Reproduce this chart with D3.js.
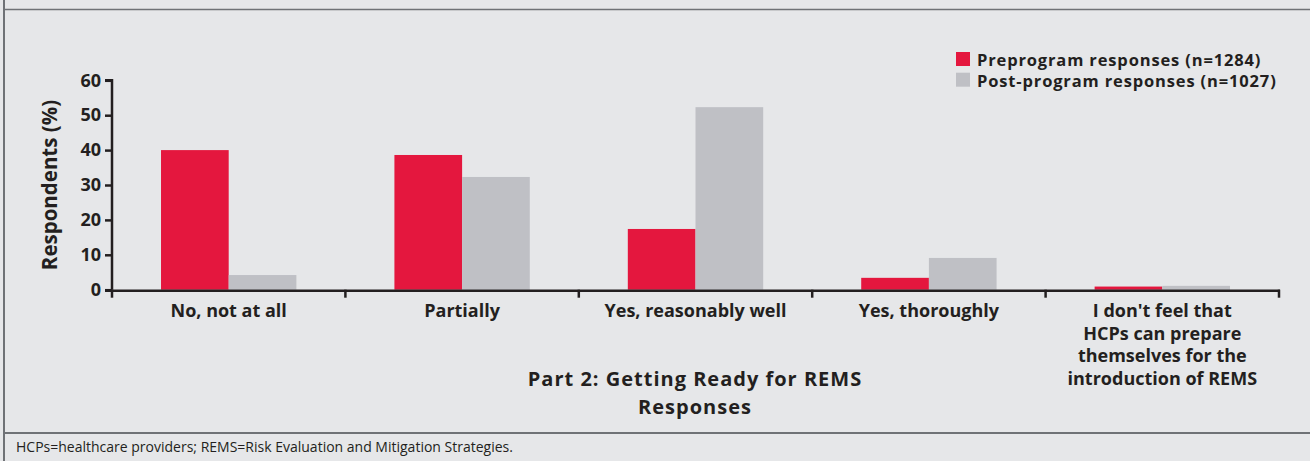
<!DOCTYPE html>
<html>
<head>
<meta charset="utf-8">
<script src="https://cdn.jsdelivr.net/npm/d3@7"></script>
<style>
  html, body { margin: 0; padding: 0; background: #e6e7e9; }
  svg { display: block; }
  text { font-family: "Open Sans", sans-serif; fill: #231f20; }
</style>
</head>
<body>
<svg id="chart" width="1310" height="461"></svg>
<script>
const categories = [
  ["No, not at all"],
  ["Partially"],
  ["Yes, reasonably well"],
  ["Yes, thoroughly"],
  ["I don't feel that", "HCPs can prepare", "themselves for the", "introduction of REMS"]
];
const seriesNames = ["Preprogram responses (n=1284)", "Post-program responses (n=1027)"];
const preValues = [40.0, 38.6, 17.4, 3.4, 0.9];
const postValues = [4.2, 32.3, 52.3, 9.1, 1.1];
const yTicks = [0, 10, 20, 30, 40, 50, 60];
const yTitle = "Respondents (%)";
const xTitle = ["Part 2: Getting Ready for REMS", "Responses"];
const footnote = "HCPs=healthcare providers; REMS=Risk Evaluation and Mitigation Strategies.";
const colors = ["#e4173e", "#bfc0c5"];

const svg = d3.select("#chart");
const W = 1310, H = 461;

svg.append("rect").attr("x", 0).attr("y", 0).attr("width", W).attr("height", H).attr("fill", "#e6e7e9");

// frame lines
svg.append("line").attr("x1", 4).attr("x2", W).attr("y1", 9.5).attr("y2", 9.5)
  .attr("stroke", "#6f7276").attr("stroke-width", 1.5);
svg.append("line").attr("x1", 4).attr("x2", 4).attr("y1", 0).attr("y2", H)
  .attr("stroke", "#6f7276").attr("stroke-width", 2);
svg.append("line").attr("x1", 4).attr("x2", W).attr("y1", 433).attr("y2", 433)
  .attr("stroke", "#6f7276").attr("stroke-width", 2);

const x0 = 112, x1 = 1279, yBase = 289.7, yTop = 80.3;
const idx = d3.range(categories.length);
const x = d3.scaleBand().domain(idx).range([x0, x1]).paddingInner(0.42).paddingOuter(0.21);
const xs = d3.scaleBand().domain([0, 1]).range([0, x.bandwidth()]);
const y = d3.scaleLinear().domain([0, 60]).range([yBase, yTop]);

// bars
const series = [preValues, postValues];
series.forEach((vals, si) => {
  svg.append("g").selectAll("rect").data(vals).join("rect")
    .attr("x", (d, i) => x(i) + xs(si))
    .attr("width", xs.bandwidth())
    .attr("y", d => y(d))
    .attr("height", d => yBase - y(d))
    .attr("fill", colors[si]);
});

// y axis
const yAxis = svg.append("g").attr("transform", `translate(${x0},0)`)
  .call(d3.axisLeft(y).tickValues(yTicks).tickSize(7).tickPadding(4));
yAxis.select(".domain").attr("stroke", "#231f20").attr("stroke-width", 2.5)
  .attr("d", `M-7,${yTop}H0V${yBase}`);
yAxis.selectAll(".tick line").attr("stroke", "#231f20").attr("stroke-width", 2.5);
yAxis.selectAll(".tick text").attr("font-family", "Open Sans").attr("font-weight", 700)
  .attr("font-size", 18).attr("fill", "#231f20");

// x axis
const boundaries = d3.range(categories.length + 1).map(i => x0 + i * x.step());
svg.append("line").attr("x1", x0 - 7).attr("x2", x1 + 1).attr("y1", yBase + 1).attr("y2", yBase + 1)
  .attr("stroke", "#231f20").attr("stroke-width", 2.5);
svg.append("g").selectAll("line").data(boundaries).join("line")
  .attr("x1", d => d).attr("x2", d => d)
  .attr("y1", yBase).attr("y2", yBase + 8)
  .attr("stroke", "#231f20").attr("stroke-width", 2.5);

// category labels
categories.forEach((lines, i) => {
  const t = svg.append("text").attr("text-anchor", "middle")
    .attr("font-weight", 700).attr("font-size", 18);
  lines.forEach((ln, j) => {
    t.append("tspan").attr("x", x(i) + x.bandwidth() / 2).attr("y", 317 + j * 22.7).text(ln);
  });
});

// y title
svg.append("text").attr("transform", "translate(57,185) rotate(-90)")
  .attr("text-anchor", "middle").attr("font-weight", 700).attr("font-size", 20.5)
  .text(yTitle);

// x title (one multi-line text)
const xt = svg.append("text").attr("text-anchor", "middle")
  .attr("font-weight", 700).attr("font-size", 20).attr("letter-spacing", 1);
xTitle.forEach((ln, j) => {
  xt.append("tspan").attr("x", 695).attr("y", 386 + j * 28).text(ln);
});

// legend
const lg = svg.append("g");
seriesNames.forEach((name, i) => {
  lg.append("rect").attr("x", 956).attr("y", 52 + i * 20.7).attr("width", 14).attr("height", 14)
    .attr("fill", colors[i]);
  lg.append("text").attr("x", 977).attr("y", 66 + i * 20.7)
    .attr("font-weight", 700).attr("font-size", 16.5).attr("letter-spacing", 0.85).text(name);
});

// footnote
svg.append("text").attr("x", 16).attr("y", 452).attr("font-size", 14).attr("font-weight", 400)
  .text(footnote);
</script>
</body>
</html>
